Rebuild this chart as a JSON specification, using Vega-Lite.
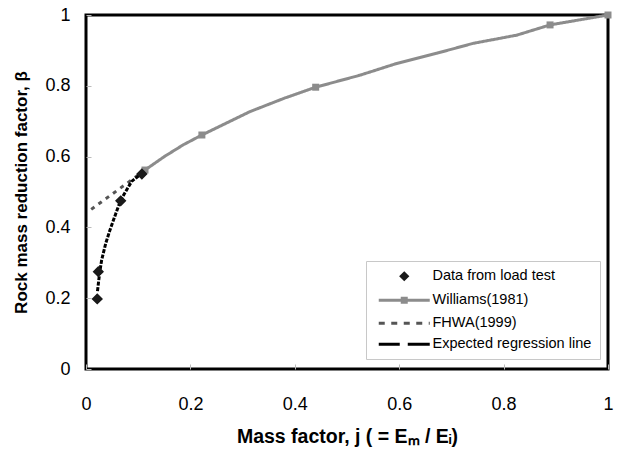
{
  "$schema": "https://vega.github.io/schema/vega-lite/v6.json",
  "width": 522,
  "height": 354,
  "autosize": "none",
  "padding": {"left": 86, "top": 15, "right": 11, "bottom": 81},
  "background": "white",
  "config": {
    "view": {"stroke": "black", "strokeWidth": 3},
    "axis": {
      "domain": false,
      "grid": false,
      "labelFont": "Liberation Sans",
      "labelFontSize": 18,
      "labelColor": "black",
      "tickColor": "#bbbbbb",
      "tickWidth": 1,
      "tickSize": -5,
      "labelFlush": false,
      "titleFont": "Liberation Sans",
      "titleFontWeight": "bold",
      "titleColor": "black"
    },
    "legend": {
      "title": null, "orient": "none", "legendX": 280, "legendY": 246,
      "strokeColor": "#c8c8c8", "fillColor": "white", "padding": 8,
      "labelFont": "Liberation Sans", "labelFontSize": 14.5, "labelColor": "black", "labelLimit": 0,
      "symbolSize": 100, "symbolStrokeWidth": 3, "symbolOffset": 23, "labelOffset": 21, "rowPadding": 6
    }
  },
  "data": {
    "values": [
      {"series": "Data from load test", "j": 0.0216, "beta": 0.198, "marker": false},
      {"series": "Data from load test", "j": 0.0236, "beta": 0.275, "marker": false},
      {"series": "Data from load test", "j": 0.0665, "beta": 0.475, "marker": false},
      {"series": "Data from load test", "j": 0.107, "beta": 0.551, "marker": false},
      {"series": "Williams(1981)", "j": 0.113, "beta": 0.562, "marker": true},
      {"series": "Williams(1981)", "j": 0.15, "beta": 0.6, "marker": false},
      {"series": "Williams(1981)", "j": 0.186, "beta": 0.633, "marker": false},
      {"series": "Williams(1981)", "j": 0.222, "beta": 0.661, "marker": true},
      {"series": "Williams(1981)", "j": 0.314, "beta": 0.727, "marker": false},
      {"series": "Williams(1981)", "j": 0.38, "beta": 0.765, "marker": false},
      {"series": "Williams(1981)", "j": 0.44, "beta": 0.796, "marker": true},
      {"series": "Williams(1981)", "j": 0.525, "beta": 0.83, "marker": false},
      {"series": "Williams(1981)", "j": 0.595, "beta": 0.863, "marker": false},
      {"series": "Williams(1981)", "j": 0.672, "beta": 0.892, "marker": false},
      {"series": "Williams(1981)", "j": 0.742, "beta": 0.92, "marker": false},
      {"series": "Williams(1981)", "j": 0.825, "beta": 0.943, "marker": false},
      {"series": "Williams(1981)", "j": 0.889, "beta": 0.972, "marker": true},
      {"series": "Williams(1981)", "j": 1.0, "beta": 1.0, "marker": true},
      {"series": "FHWA(1999)", "j": 0.01, "beta": 0.451, "marker": false},
      {"series": "FHWA(1999)", "j": 0.105, "beta": 0.553, "marker": false},
      {"series": "Expected regression line", "j": 0.022, "beta": 0.22, "marker": false},
      {"series": "Expected regression line", "j": 0.026, "beta": 0.27, "marker": false},
      {"series": "Expected regression line", "j": 0.03, "beta": 0.308, "marker": false},
      {"series": "Expected regression line", "j": 0.038, "beta": 0.356, "marker": false},
      {"series": "Expected regression line", "j": 0.046, "beta": 0.393, "marker": false},
      {"series": "Expected regression line", "j": 0.0575, "beta": 0.441, "marker": false},
      {"series": "Expected regression line", "j": 0.0665, "beta": 0.477, "marker": false},
      {"series": "Expected regression line", "j": 0.0875, "beta": 0.53, "marker": false},
      {"series": "Expected regression line", "j": 0.107, "beta": 0.553, "marker": false}
    ]
  },
  "encoding": {
    "x": {
      "field": "j", "type": "quantitative",
      "scale": {"domain": [0, 1], "nice": false, "zero": false},
      "axis": {"values": [0, 0.2, 0.4, 0.6, 0.8, 1], "format": "~g", "labelPadding": 31, "title": "Mass factor, j ( = Eₘ / Eᵢ)", "titleFontSize": 19.5, "titlePadding": 14}
    },
    "y": {
      "field": "beta", "type": "quantitative",
      "scale": {"domain": [0, 1], "nice": false, "zero": false},
      "axis": {"values": [0, 0.2, 0.4, 0.6, 0.8, 1], "format": "~g", "labelPadding": 21, "title": "Rock mass reduction factor, β", "titleFontSize": 17, "titlePadding": 14}
    }
  },
  "layer": [
    {
      "transform": [{"filter": "datum.series !== 'Data from load test'"}],
      "mark": {"type": "line", "strokeWidth": 3},
      "encoding": {
        "stroke": {
          "field": "series", "type": "nominal",
          "scale": {"domain": ["Williams(1981)", "FHWA(1999)", "Expected regression line"], "range": ["#8c8c8c", "#555555", "#000000"]},
          "legend": null
        },
        "strokeDash": {
          "field": "series", "type": "nominal",
          "scale": {"domain": ["Williams(1981)", "FHWA(1999)", "Expected regression line"], "range": [[1, 0], [4, 5], [4, 1.5]]},
          "legend": null
        }
      }
    },
    {
      "transform": [{"filter": "datum.marker"}],
      "mark": {"type": "square", "size": 49, "color": "#8c8c8c", "opacity": 1},
      "encoding": {}
    },
    {
      "transform": [{"filter": "datum.series === 'Data from load test'"}],
      "mark": {"type": "point", "shape": "diamond", "filled": true, "size": 130, "opacity": 1, "color": "#1a1a1a", "strokeWidth": 0},
      "encoding": {}
    },
    {
      "transform": [{"filter": "datum.series === 'Data from load test'"}],
      "mark": {"type": "point", "filled": false, "size": 100, "opacity": 1, "strokeWidth": 2.5},
      "encoding": {
        "color": {
          "field": "series", "type": "nominal",
          "scale": {"domain": ["Data from load test", "Williams(1981)", "FHWA(1999)", "Expected regression line"], "range": ["#1a1a1a", "#8c8c8c", "#555555", "#000000"]},
          "legend": {}
        },
        "shape": {
          "field": "series", "type": "nominal",
          "scale": {"domain": ["Data from load test", "Williams(1981)", "FHWA(1999)", "Expected regression line"], "range": ["M0,-0.6L0.6,0L0,0.6L-0.6,0ZM0,-0.25L0.25,0L0,0.25L-0.25,0Z", "M-5.1,0L5.1,0M-0.4,-0.4L0.4,-0.4L0.4,0.4L-0.4,0.4ZM-0.1,-0.1L0.1,-0.1L0.1,0.1L-0.1,0.1Z", "M-5.1,0L-3.9,0M-2.6,0L-1.4,0M-0.1,0L1.1,0M2.4,0L3.6,0M4.9,0L5.1,0", "M-5.1,0L-0.9,0M0.7,0L5.1,0"]},
          "legend": {}
        }
      }
    }
  ]
}
